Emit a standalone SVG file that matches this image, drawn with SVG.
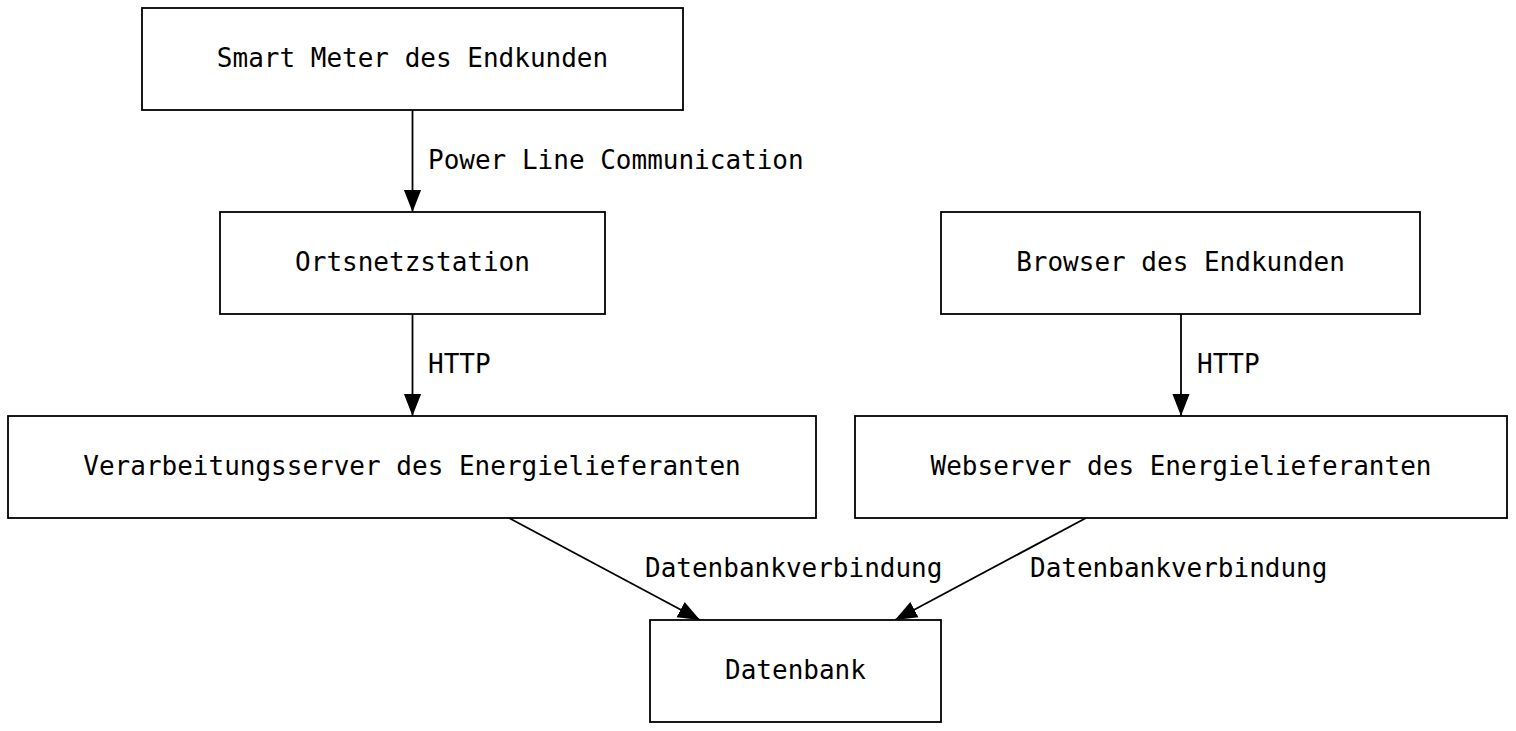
<svg xmlns="http://www.w3.org/2000/svg" width="1516" height="731" viewBox="0 0 1516 731">
<style>
.box{fill:#fff;stroke:#000;stroke-width:1.8}
.t{font-family:"DejaVu Sans Mono",monospace;font-size:26px;fill:#000}
.n{text-anchor:middle}
.e{stroke:#000;stroke-width:1.8;fill:none}
</style>
<defs>
<marker id="ah" viewBox="0 0 10 10" refX="10" refY="5" markerWidth="22" markerHeight="22" markerUnits="userSpaceOnUse" orient="auto">
<path d="M0,1.1 L10,5 L0,8.9 Z" fill="#000"/>
</marker>
</defs>
<rect width="1516" height="731" fill="#fff"/>
<g id="connectors">
<line class="e" x1="412.5" y1="110" x2="412.5" y2="212" marker-end="url(#ah)"/>
<text class="t" x="428" y="168.5">Power Line Communication</text>
<line class="e" x1="412.5" y1="314" x2="412.5" y2="416" marker-end="url(#ah)"/>
<text class="t" x="428" y="372.5">HTTP</text>
<line class="e" x1="1181" y1="314" x2="1181" y2="416" marker-end="url(#ah)"/>
<text class="t" x="1197" y="372.5">HTTP</text>
<line class="e" x1="509" y1="518" x2="700" y2="620" marker-end="url(#ah)"/>
<text class="t" x="645" y="576.5">Datenbankverbindung</text>
<line class="e" x1="1086" y1="518" x2="895" y2="620" marker-end="url(#ah)"/>
<text class="t" x="1030" y="576.5">Datenbankverbindung</text>
</g>
<g id="smartmeter"><rect class="box" x="142" y="8" width="541" height="102"/><text class="t n" x="412.5" y="67">Smart Meter des Endkunden</text></g>
<g id="ortsnetz"><rect class="box" x="220" y="212" width="385" height="102"/><text class="t n" x="412.5" y="271">Ortsnetzstation</text></g>
<g id="browser"><rect class="box" x="941" y="212" width="479" height="102"/><text class="t n" x="1180.5" y="271">Browser des Endkunden</text></g>
<g id="verarbeitung"><rect class="box" x="8" y="416" width="808" height="102"/><text class="t n" x="412" y="475">Verarbeitungsserver des Energielieferanten</text></g>
<g id="webserver"><rect class="box" x="855" y="416" width="652" height="102"/><text class="t n" x="1181" y="475">Webserver des Energielieferanten</text></g>
<g id="datenbank"><rect class="box" x="650" y="620" width="291" height="102"/><text class="t n" x="795.5" y="679">Datenbank</text></g>
</svg>
